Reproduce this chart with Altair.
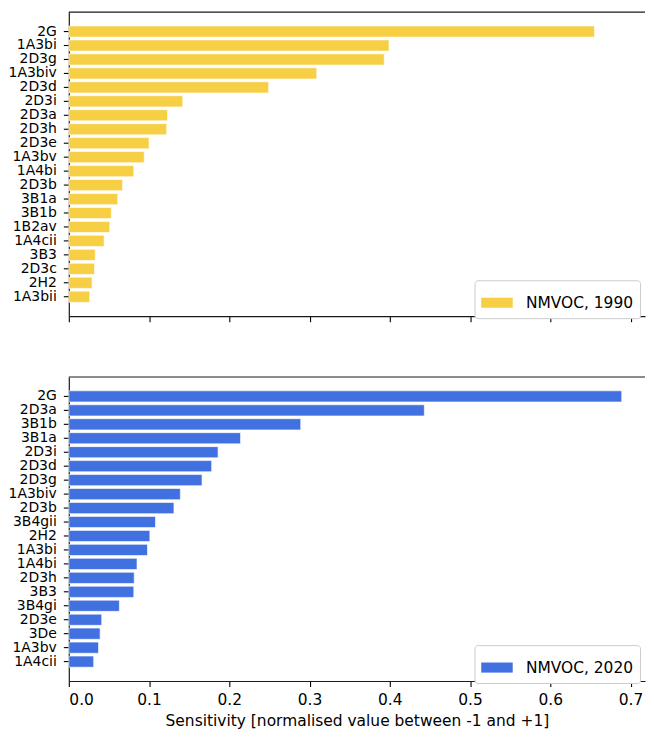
import altair as alt
import pandas as pd

cats_1990 = ["2G", "1A3bi", "2D3g", "1A3biv", "2D3d", "2D3i", "2D3a", "2D3h", "2D3e", "1A3bv",
             "1A4bi", "2D3b", "3B1a", "3B1b", "1B2av", "1A4cii", "3B3", "2D3c", "2H2", "1A3bii"]
vals_1990 = [0.655, 0.399, 0.393, 0.309, 0.249, 0.142, 0.123, 0.122, 0.100, 0.094,
             0.081, 0.067, 0.061, 0.053, 0.051, 0.044, 0.033, 0.032, 0.029, 0.026]

cats_2020 = ["2G", "2D3a", "3B1b", "3B1a", "2D3i", "2D3d", "2D3g", "1A3biv", "2D3b", "3B4gii",
             "2H2", "1A3bi", "1A4bi", "2D3h", "3B3", "3B4gi", "2D3e", "3De", "1A3bv", "1A4cii"]
vals_2020 = [0.689, 0.443, 0.289, 0.214, 0.186, 0.178, 0.166, 0.139, 0.131, 0.108,
             0.101, 0.098, 0.085, 0.0815, 0.081, 0.063, 0.041, 0.039, 0.037, 0.031]

x_ticks = [0.0, 0.1, 0.2, 0.3, 0.4, 0.5, 0.6, 0.7]
x_max = 0.718
label_1990 = "NMVOC, 1990"
label_2020 = "NMVOC, 2020"
color_1990 = "#F7CF45"
color_2020 = "#4170E0"
x_title = "Sensitivity [normalised value between -1 and +1]"

FONT = "DejaVu Sans"
INK = "#000"
SPINE = "#1a1a1a"
W = 578
H = 305
SWATCH = "M-1,-0.32H1V0.32H-1Z"


def panel(cats, vals, label, color, bottom):
    df = pd.DataFrame({"source": cats, "value": vals, "series": label})
    xaxis = alt.Axis(
        values=x_ticks, format=".1f", labels=bottom, title=x_title if bottom else None,
        grid=False, domain=True, domainColor=SPINE, domainWidth=1.2,
        tickSize=5.5, tickColor=INK, tickWidth=1.1,
        labelFontSize=15.5, labelFont=FONT, labelColor=INK, labelPadding=6,
        titleFontSize=15.5, titleFont=FONT, titleFontWeight="normal", titleColor=INK,
        titlePadding=6,
    )
    bars = alt.Chart(df).mark_bar(stroke="white", strokeWidth=0.6).encode(
        x=alt.X("value:Q", scale=alt.Scale(domain=[0, x_max], nice=False, zero=True), axis=xaxis),
        y=alt.Y("source:N", sort=cats,
                scale=alt.Scale(paddingInner=0.2, paddingOuter=0.99),
                axis=alt.Axis(title=None, grid=False, domain=True, domainColor=SPINE,
                              domainWidth=1.2, tickSize=5.5,
                              tickColor=INK, tickWidth=1.1, labelFontSize=14,
                              labelFont=FONT, labelColor=INK, labelPadding=7)),
        color=alt.Color("series:N", scale=alt.Scale(domain=[label], range=[color]),
                        legend=alt.Legend(orient="none", legendX=407, legendY=H - 36,
                                          title=None, symbolType=SWATCH, symbolSize=998,
                                          symbolStrokeWidth=0, symbolOpacity=1,
                                          labelFontSize=15.5, labelFont=FONT, labelColor=INK,
                                          labelOffset=13, padding=6.5, strokeColor="#cccccc",
                                          fillColor="white", cornerRadius=3)),
    )
    top_spine = alt.Chart(pd.DataFrame({"k": [0]})).mark_rule(
        color=SPINE, strokeWidth=1.2
    ).encode(x=alt.value(0), x2=alt.value(W), y=alt.value(0))
    return alt.layer(bars, top_spine).properties(width=W, height=H)


top = panel(cats_1990, vals_1990, label_1990, color_1990, False)
bottom = panel(cats_2020, vals_2020, label_2020, color_2020, True)

chart = alt.vconcat(top, bottom, spacing=61, bounds="flush").resolve_scale(
    color="independent", y="independent"
).properties(
    padding={"left": 0, "top": 2, "right": 0, "bottom": 0}
).configure_view(stroke=None)

chart.save("out.html", embed_options={"renderer": "svg", "actions": False})
